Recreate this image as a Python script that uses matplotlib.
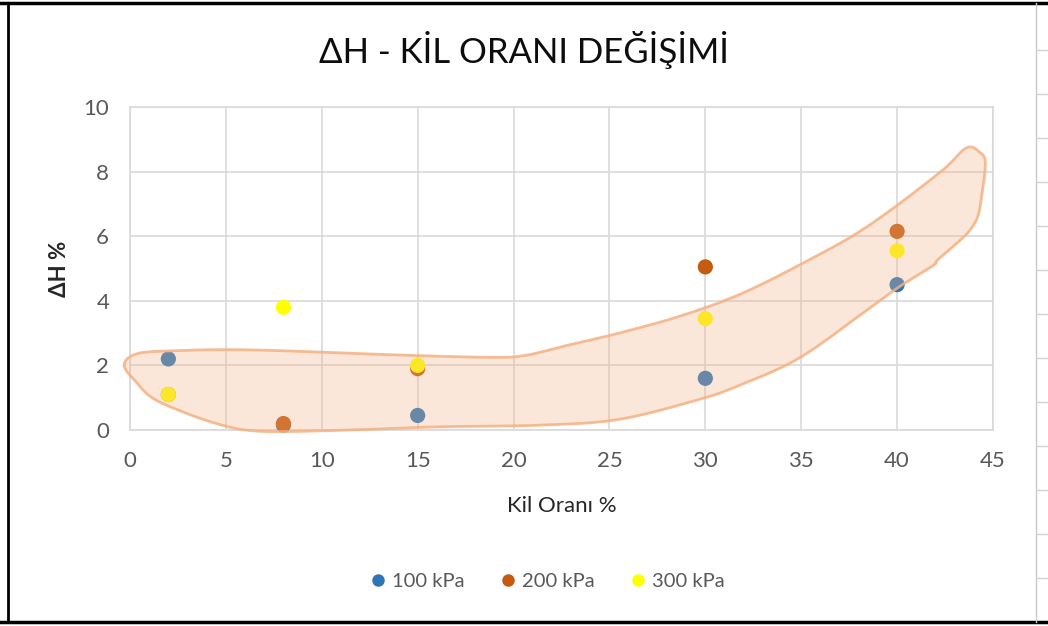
import numpy as np
import matplotlib
matplotlib.use("Agg")
import matplotlib.pyplot as plt
from matplotlib.lines import Line2D

plt.rcParams['font.family'] = ['Lato', 'DejaVu Sans']

# Clay ratio (%) and settlement change dH (%) per vertical stress
kil_orani = [2, 8, 15, 30, 40]
dh_100 = [2.2, 0.15, 0.45, 1.6, 4.5]
dh_200 = [1.1, 0.2, 1.9, 5.05, 6.15]
dh_300 = [1.1, 3.8, 2.0, 3.45, 5.55]

series_labels = ['100 kPa', '200 kPa', '300 kPa']
series_colors = ['#2E75B6', '#C55A11', '#FFFF00']

x_ticks = list(range(0, 50, 5))
y_ticks = list(range(0, 12, 2))

# hand-drawn trend envelope (data units), traced clockwise from the left tip
zone_x = [-0.3, 0.3, 2.1, 6.3, 14.1, 19.0, 20.7, 22.8, 25.5, 28.7, 31.8, 35.1,
          38.4, 42.2, 43.6, 44.3, 44.6, 44.4, 44.2, 43.8, 43.3, 42.1, 41.9,
          40.1, 38.4, 34.9, 31.8, 29.7, 25.5, 21.4, 16.2, 11.5, 7.8, 6.0,
          4.5, 2.8, 1.2, 0.3]
zone_y = [2.0, 2.35, 2.45, 2.48, 2.32, 2.25, 2.32, 2.62, 3.0, 3.53, 4.2, 5.17,
          6.28, 7.96, 8.73, 8.6, 8.27, 7.21, 6.6, 6.19, 5.88, 5.26, 5.1,
          4.43, 3.7, 2.23, 1.39, 0.95, 0.33, 0.15, 0.1, 0.0, -0.05, 0.0,
          0.2, 0.55, 0.98, 1.5]


def smooth_closed(px, py, n=12):
    """Closed Catmull-Rom curve through the given outline points."""
    p = np.column_stack([px, py])
    m = len(p)
    out = []
    for i in range(m):
        p0, p1, p2, p3 = p[i - 1], p[i], p[(i + 1) % m], p[(i + 2) % m]
        for t in np.linspace(0, 1, n, endpoint=False):
            t2, t3 = t * t, t * t * t
            out.append(0.5 * ((2 * p1) + (-p0 + p2) * t
                              + (2 * p0 - 5 * p1 + 4 * p2 - p3) * t2
                              + (-p0 + 3 * p1 - 3 * p2 + p3) * t3))
    out = np.array(out)
    return out[:, 0], out[:, 1]


fig = plt.figure(figsize=(10.48, 6.26), dpi=100)
ax = fig.add_axes([130 / 1048, 1 - 430 / 626, 863 / 1048, 323 / 626])

for vals, lab, col in zip([dh_100, dh_200, dh_300], series_labels, series_colors):
    ax.scatter(kil_orani, vals, s=120, color=col, label=lab, zorder=3,
               edgecolors='none', clip_on=False)

sx, sy = smooth_closed(zone_x, zone_y)
ax.fill(sx, sy, facecolor='#F4B183', alpha=0.3, edgecolor='none', zorder=4,
        clip_on=False)
ax.plot(np.append(sx, sx[0]), np.append(sy, sy[0]), color='#F4B183',
        alpha=0.85, lw=2, zorder=4, clip_on=False)

ax.set_xlim(0, 45)
ax.set_ylim(0, 10)
ax.set_xticks(x_ticks)
ax.set_yticks(y_ticks)
ax.grid(True, color='#D9D9D9', lw=1.2, zorder=0)
ax.set_axisbelow(True)
for sp in ax.spines.values():
    sp.set_color('#D9D9D9')
    sp.set_linewidth(1.2)
ax.tick_params(length=0, labelsize=16, colors='#595959', pad=15)

ax.set_xlabel('Kil Oranı %', fontsize=16, color='#262626', labelpad=18)
ax.set_ylabel('ΔH %', fontsize=16, color='#262626', fontweight='bold', labelpad=10)
fig.text(0.5, 1 - 50 / 626, 'ΔH - KİL ORANI DEĞİŞİMİ', ha='center', va='center',
         fontsize=25, color='#0D0D0D')

handles = [Line2D([], [], marker='o', ls='none', markersize=9, color=c,
                  markeredgewidth=0) for c in series_colors]
fig.legend(handles, series_labels, loc='center', ncol=3, frameon=False,
           bbox_to_anchor=(548 / 1048, 1 - 581 / 626), fontsize=14.5,
           labelcolor='#595959', handlelength=0.7, handletextpad=0.35,
           columnspacing=1.8)

# screenshot frame and the neighbouring sheet strip
bw = 1 / 1048
fig.add_artist(Line2D([0, 1], [1 - 3 / 626] * 2, color='black', lw=2.5))
fig.add_artist(Line2D([0, 1], [1 - 622 / 626] * 2, color='black', lw=2.5))
fig.add_artist(Line2D([8 * bw] * 2, [1 - 622 / 626, 1 - 3 / 626], color='black', lw=2))
fig.add_artist(Line2D([1036 * bw] * 2, [1 - 622 / 626, 1 - 3 / 626], color='#C8C8C8', lw=1))
for yy in range(50, 620, 44):
    fig.add_artist(Line2D([1036 * bw, 1], [1 - yy / 626] * 2, color='#D4D4D4', lw=1))

fig.savefig('out.png', dpi=100)
